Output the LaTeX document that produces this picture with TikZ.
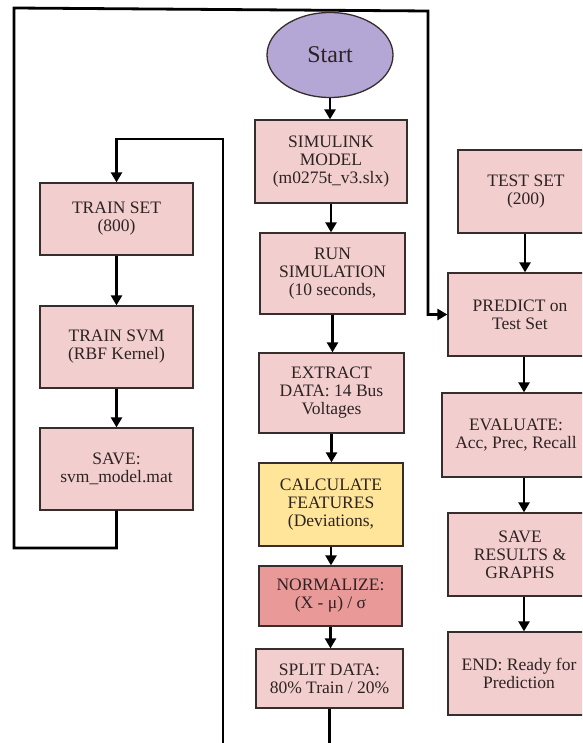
\documentclass[tikz,border=0pt]{standalone}
\usepackage{fontspec}
\setmainfont{Liberation Serif}
\usetikzlibrary{arrows.meta,shapes.geometric}
\definecolor{pinkfill}{RGB}{242,206,206}
\definecolor{yelfill}{RGB}{255,229,153}
\definecolor{normfill}{RGB}{234,153,153}
\definecolor{purpfill}{RGB}{180,167,214}
\definecolor{bordc}{RGB}{55,45,45}
\definecolor{txtc}{RGB}{45,35,35}
\tikzset{
  box/.style={rectangle, draw=bordc, line width=1.3pt, fill=pinkfill, align=center,
    text=txtc, inner sep=2pt, font=\fontsize{17.5}{18}\selectfont},
  arr/.style={draw=black, line width=2.8pt, -{Triangle[length=10pt,width=11pt]}},
}
\begin{document}
\begin{tikzpicture}[x=1pt,y=-1pt]
\useasboundingbox (0,0) rectangle (582,743);
\clip (0,0) rectangle (582,743);
% middle column
\node[ellipse, draw=bordc, line width=1.3pt, fill=purpfill, minimum width=126pt, minimum height=85pt,
  text=txtc, font=\fontsize{24}{26}\selectfont] (start) at (330,55) {Start};
\node[box, minimum width=152pt, minimum height=83pt] (sim) at (331,161.5) {SIMULINK\\MODEL\\(m0275t\_v3.slx)};
\node[box, minimum width=145pt, minimum height=81pt] (run) at (332.5,273.5) {RUN\\SIMULATION\\(10 seconds,};
\node[box, minimum width=145pt, minimum height=80pt] (ext) at (331.5,393) {EXTRACT\\DATA: 14 Bus\\Voltages};
\node[box, fill=yelfill, minimum width=144pt, minimum height=83pt] (calc) at (331,504.5) {CALCULATE\\FEATURES\\(Deviations,};
\node[box, fill=normfill, minimum width=143pt, minimum height=60pt] (norm) at (330.5,596) {NORMALIZE:\\(X - μ) / σ};
\node[box, minimum width=147pt, minimum height=59pt] (split) at (329.5,678.5) {SPLIT DATA:\\80\% Train / 20\%};
% left column
\node[box, minimum width=153pt, minimum height=72pt] (trainset) at (116.5,219) {TRAIN SET\\(800)};
\node[box, minimum width=153pt, minimum height=82pt] (trainsvm) at (116.5,347) {TRAIN SVM\\(RBF Kernel)};
\node[box, minimum width=153pt, minimum height=82pt] (savem) at (116.5,469) {SAVE:\\svm\_model.mat};
% right column
\node[box, minimum width=136pt, minimum height=83pt] (testset) at (526,191.5) {TEST SET\\(200)};
\node[box, minimum width=144pt, minimum height=83pt] (predict) at (520,314.5) {PREDICT on\\Test Set};
\node[box, minimum width=148pt, minimum height=84pt] (eval) at (516,435) {EVALUATE:\\Acc, Prec, Recall};
\node[box, minimum width=144pt, minimum height=83pt] (saveres) at (520,554.5) {SAVE\\RESULTS \&\\GRAPHS};
\node[box, minimum width=142pt, minimum height=83pt] (endn) at (519,673.5) {END: Ready for\\Prediction};
% helper coordinates
\coordinate (lb) at (223,770);
\coordinate (lt) at (223,139);
\coordinate (fl) at (14,548);
\coordinate (ftl) at (14,8);
\coordinate (ftr) at (428,11);
% middle arrows
\draw[arr] (start.south) -- (start.south |- sim.north);
\draw[arr] (sim.south) -- (sim.south |- run.north);
\draw[arr] (run.south) -- (run.south |- ext.north);
\draw[arr] (ext.south) -- (ext.south |- calc.north);
\draw[arr] (calc.south) -- (calc.south |- norm.north);
\draw[arr] (norm.south) -- (norm.south |- split.north);
% split to train set loop
\draw[arr] (split.south) |- (lb) -- (lt) -| (trainset.north);
% left arrows
\draw[arr] (trainset.south) -- (trainsvm.north);
\draw[arr] (trainsvm.south) -- (savem.north);
% outer loop
\draw[arr] (savem.south) |- (fl) -- (ftl) -- (ftr) |- (predict.west);
% right arrows
\draw[arr] (testset.south -| 525,0) -- (predict.north -| 525,0);
\draw[arr] (predict.south -| 524,0) -- (eval.north -| 524,0);
\draw[arr] (eval.south -| 524,0) -- (saveres.north -| 524,0);
\draw[arr] (saveres.south -| 524,0) -- (endn.north -| 524,0);
\end{tikzpicture}
\end{document}
